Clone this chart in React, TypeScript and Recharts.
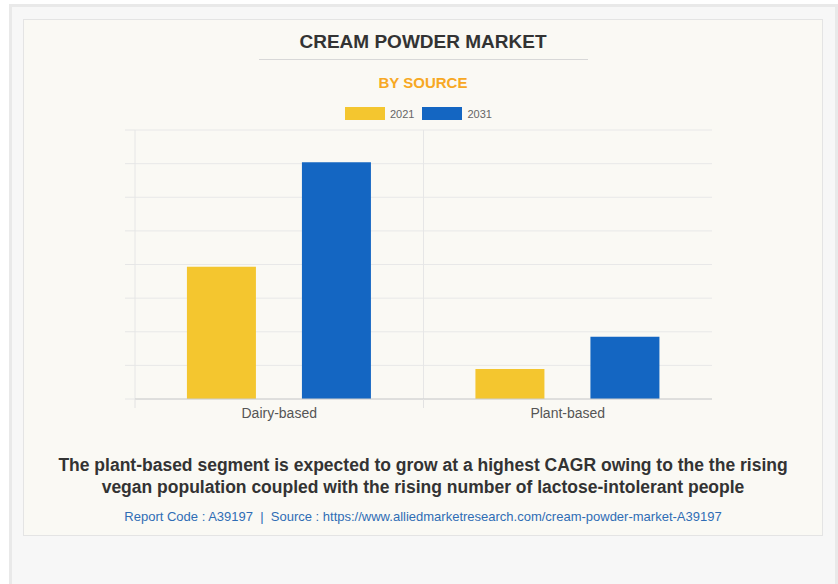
import { BarChart, Bar, XAxis, YAxis, CartesianGrid, ReferenceLine } from 'recharts'

// Cream powder market by source (no y-axis labels in the source, values read in grid units)
const categories = ['Dairy-based', 'Plant-based']
const values2021 = [3.93, 0.89]
const values2031 = [7.04, 1.85]
const yTicks = [0, 1, 2, 3, 4, 5, 6, 7, 8]

const series = [
    { key: 'y2021', label: '2021', color: '#F4C62F', values: values2021 },
    { key: 'y2031', label: '2031', color: '#1466C2', values: values2031 }
]

const chartData = categories.map((name, i) => ({
    name,
    y2021: values2021[i],
    y2031: values2031[i]
}))

const FONT = '"Liberation Sans", Arial, sans-serif'

function CategoryTick(props: any) {
    const { x, y, payload } = props
    const left = x - (payload?.offset ?? 0)
    return (
        <g>
            <line x1={left} x2={left} y1={y - 9} y2={y} stroke="#e2e2e2" />
            <text x={x} y={y + 10} textAnchor="middle" fill="#555" fontSize={14} fontFamily={FONT}>
                {payload.value}
            </text>
        </g>
    )
}

// y axis has no labels, only the short tick marks
const EmptyTick = () => <g />

export default function App() {
    return (
        <div style={{ position: 'absolute', left: 0, top: 0, width: 838, height: 584, background: '#fff', overflow: 'hidden', fontFamily: FONT }}>
            {/* outer panel */}
            <div style={{ position: 'absolute', left: 9, top: 4, width: 829, height: 600, boxSizing: 'border-box', background: '#f7f7f7', border: '3px solid #e9e9e9' }} />
            {/* card */}
            <div style={{ position: 'absolute', left: 23, top: 19, width: 800, height: 517, boxSizing: 'border-box', background: '#faf9f4', border: '1px solid #e4e4e4' }} />

            <div style={{ position: 'absolute', left: 23, width: 800, top: 31, textAlign: 'center', fontSize: 19, fontWeight: 'bold', color: '#333', lineHeight: '22px' }}>
                CREAM POWDER MARKET
            </div>
            <div style={{ position: 'absolute', left: 259, width: 329, top: 59, height: 1, background: '#d8d8d8' }} />
            <div style={{ position: 'absolute', left: 23, width: 800, top: 74, textAlign: 'center', fontSize: 15, fontWeight: 'bold', color: '#F7A823', lineHeight: '18px' }}>
                BY SOURCE
            </div>

            {/* legend */}
            <div style={{ position: 'absolute', left: 345, top: 107, display: 'flex', alignItems: 'center', fontSize: 11, color: '#666' }}>
                {series.map(s => (
                    <div key={s.key} style={{ display: 'flex', alignItems: 'center', marginRight: 8 }}>
                        <div style={{ width: 40, height: 13, background: s.color, marginRight: 5 }} />
                        <span>{s.label}</span>
                    </div>
                ))}
            </div>

            <div style={{ position: 'absolute', left: 0, top: 0 }}>
                <BarChart
                    width={838}
                    height={440}
                    data={chartData}
                    margin={{ top: 130, right: 126, left: 125, bottom: 11 }}
                    barCategoryGap="18%"
                    barGap={46}
                >
                    <CartesianGrid vertical={false} stroke="#e8e8e8" />
                    <YAxis
                        domain={[0, 8]}
                        ticks={yTicks}
                        width={10}
                        tick={<EmptyTick />}
                        tickSize={10}
                        tickLine={{ stroke: '#e6e6e6' }}
                        axisLine={false}
                    />
                    <XAxis
                        dataKey="name"
                        height={30}
                        axisLine={{ stroke: '#cccccc' }}
                        tickLine={false}
                        tickSize={9}
                        tickMargin={0}
                        tick={<CategoryTick />}
                        interval={0}
                    />
                    {categories.map(c => (
                        <ReferenceLine key={c} x={c} position="start" stroke="#e6e6e6" />
                    ))}
                    {series.map(s => (
                        <Bar key={s.key} dataKey={s.key} fill={s.color} isAnimationActive={false} />
                    ))}
                </BarChart>
            </div>

            <div style={{ position: 'absolute', left: 23, width: 800, top: 454, textAlign: 'center', fontSize: 17.5, fontWeight: 'bold', color: '#333', lineHeight: '22px' }}>
                The plant-based segment is expected to grow at a highest CAGR owing to the the rising<br />
                vegan population coupled with the rising number of lactose-intolerant people
            </div>
            <div style={{ position: 'absolute', left: 23, width: 800, top: 509, textAlign: 'center', fontSize: 13, color: '#2f6db5', lineHeight: '16px', whiteSpace: 'pre' }}>
                {'Report Code : A39197  |  Source : https://www.alliedmarketresearch.com/cream-powder-market-A39197'}
            </div>
        </div>
    )
}
